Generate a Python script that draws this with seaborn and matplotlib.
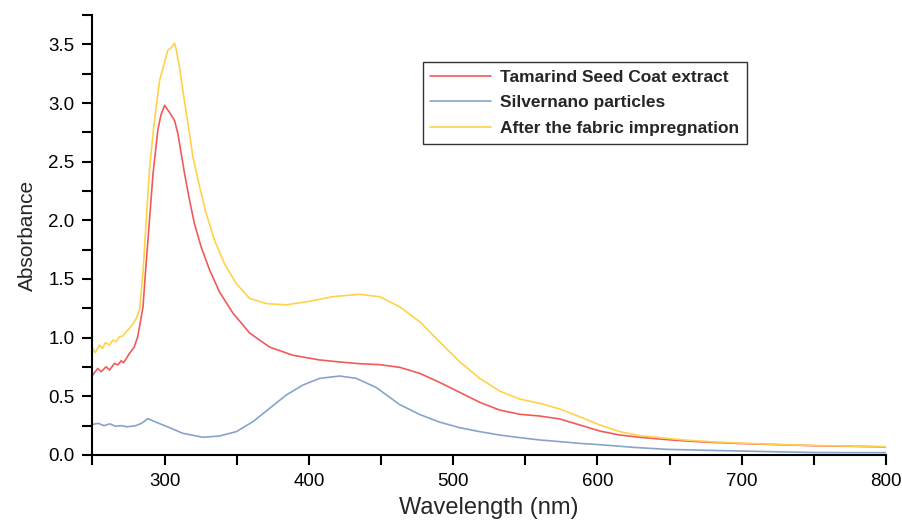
import numpy as np
import pandas as pd
import seaborn as sns
import matplotlib
matplotlib.use("Agg")
import matplotlib.pyplot as plt
from matplotlib.ticker import MultipleLocator, FormatStrFormatter

# UV-Vis absorbance spectra (wavelength in nm, absorbance in a.u.)
tamarind_wl = [250, 253.7, 256, 259.5, 261.8, 265.3, 267.6, 269.9, 271.5, 275.7, 279,
               281.4, 285, 287, 289.5, 292, 295.3, 297.5, 300, 303.4, 306.9, 309.2,
               311.5, 313.8, 317.3, 320.7, 325.4, 331.1, 338, 347.3, 358.9, 372.7,
               388.9, 407.4, 422, 435.2, 449, 462.9, 476.8, 490.6, 504.5, 518.4, 532.2,
               546.1, 560, 573.9, 587.7, 601.6, 615.5, 629.3, 643.2, 660, 680, 699,
               725, 750, 775, 800]
tamarind_abs = [0.68, 0.738, 0.71, 0.752, 0.724, 0.781, 0.767, 0.803, 0.786, 0.866, 0.922,
                1.01, 1.26, 1.6, 2.0, 2.4, 2.77, 2.9, 2.98, 2.92, 2.85, 2.74,
                2.57, 2.40, 2.17, 1.97, 1.77, 1.58, 1.39, 1.21, 1.04, 0.92,
                0.85, 0.81, 0.792, 0.778, 0.77, 0.747, 0.696, 0.619, 0.534, 0.449, 0.383,
                0.347, 0.332, 0.307, 0.256, 0.204, 0.170, 0.151, 0.136, 0.12, 0.107, 0.098,
                0.088, 0.079, 0.074, 0.069]

silver_wl = [250, 254, 258, 262, 266, 270, 274, 280, 284, 288.4, 294, 303.4, 312.6,
             326.5, 338.1, 349.7, 361.2, 372.7, 384.3, 395.8, 407.4, 421.3, 432.9,
             446.7, 462.9, 476.8, 490.6, 504.5, 518.4, 532.2, 546.1, 560, 573.9, 587.7,
             601.6, 625, 648, 675, 699, 725, 750, 775, 800]
silver_abs = [0.26, 0.27, 0.25, 0.265, 0.245, 0.25, 0.24, 0.25, 0.27, 0.31, 0.28, 0.233,
              0.185, 0.151, 0.162, 0.199, 0.284, 0.397, 0.511, 0.596, 0.653, 0.673, 0.653,
              0.575, 0.43, 0.345, 0.28, 0.233, 0.199, 0.170, 0.148, 0.128, 0.114, 0.099,
              0.088, 0.065, 0.048, 0.04, 0.034, 0.027, 0.021, 0.02, 0.02]

fabric_wl = [250, 250.2, 252, 254.8, 257.1, 259, 261.8, 264.1, 266.4, 268.7, 271, 273.3,
             275.7, 278, 280.3, 282.6, 285, 287, 289.5, 292.5, 296.5, 300, 302.2, 304.5,
             306.9, 308, 310.3, 312.6, 316.1, 319.6, 324.2, 328.8, 334.6, 341.5, 349.7,
             358.9, 370.5, 384.3, 400.5, 416.6, 435.2, 449, 462.9, 476.8, 490.6, 504.5,
             518.4, 532.2, 546.1, 560, 573.9, 587.7, 601.6, 615.5, 629.3, 643.2, 660, 680,
             699, 725, 750, 775, 800]
fabric_abs = [0.87, 0.909, 0.872, 0.937, 0.909, 0.957, 0.937, 0.98, 0.965, 1.008, 1.014,
              1.05, 1.079, 1.116, 1.164, 1.235, 1.55, 1.95, 2.43, 2.8, 3.19, 3.35, 3.45,
              3.47, 3.51, 3.46, 3.31, 3.11, 2.83, 2.54, 2.29, 2.06, 1.83, 1.63, 1.46,
              1.335, 1.29, 1.28, 1.31, 1.35, 1.369, 1.349, 1.263, 1.136, 0.965, 0.795,
              0.653, 0.545, 0.477, 0.44, 0.392, 0.326, 0.256, 0.199, 0.165, 0.148, 0.128,
              0.112, 0.101, 0.09, 0.081, 0.076, 0.071]

labels = ["Tamarind Seed Coat extract", "Silvernano particles",
          "After the fabric impregnation"]
colors = ["#F25A5A", "#86A4CC", "#FFD24A"]

frames = []
for name, wl, ab in zip(labels, [tamarind_wl, silver_wl, fabric_wl],
                        [tamarind_abs, silver_abs, fabric_abs]):
    frames.append(pd.DataFrame({"Wavelength": wl, "Absorbance": ab, "Sample": name}))
df = pd.concat(frames, ignore_index=True)

sns.set_theme(style="ticks")
plt.rcParams["font.family"] = ["Liberation Sans", "DejaVu Sans"]

fig = plt.figure(figsize=(9.03, 5.21), dpi=100)
ax = fig.add_axes([0.1024, 0.1267, 0.8788, 0.8445])

sns.lineplot(data=df, x="Wavelength", y="Absorbance", hue="Sample",
             hue_order=labels, palette=colors, linewidth=1.2, sort=False,
             estimator=None, ax=ax)

ax.set_xlim(250, 800)
ax.set_ylim(0, 3.75)
ax.xaxis.set_minor_locator(MultipleLocator(50))
ax.yaxis.set_major_locator(MultipleLocator(0.5))
ax.yaxis.set_minor_locator(MultipleLocator(0.25))
ax.set_xticks([300, 400, 500, 600, 700, 800])
ax.yaxis.set_major_formatter(FormatStrFormatter("%.1f"))

for side in ["top", "right"]:
    ax.spines[side].set_visible(False)
for side in ["left", "bottom"]:
    ax.spines[side].set_linewidth(1.5)
    ax.spines[side].set_color("black")
ax.tick_params(which="both", direction="out", length=7, width=1.5, color="black",
               labelsize=13.5, labelcolor="black", pad=6)

ax.set_xlabel("Wavelength (nm)", fontsize=17, labelpad=5)
ax.set_ylabel("Absorbance", fontsize=15, labelpad=8)

leg = ax.legend(loc="upper left", bbox_to_anchor=(0.416, 0.894), borderaxespad=0,
                frameon=True, fancybox=False, edgecolor="black", borderpad=0.45,
                handlelength=3.5, handletextpad=0.5, labelspacing=0.6,
                prop={"weight": "bold", "size": 12.5})
leg.get_frame().set_linewidth(1.0)
for line in leg.get_lines():
    line.set_linewidth(1.2)

fig.savefig("out.png", dpi=100)
